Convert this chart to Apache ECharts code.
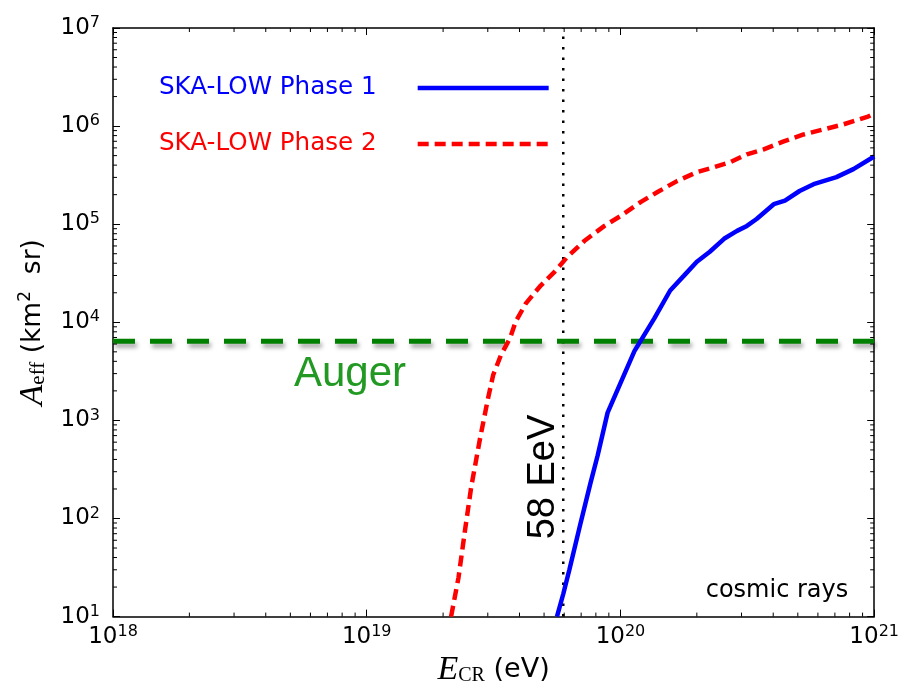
<!DOCTYPE html>
<html>
<head>
<meta charset="utf-8">
<script src="https://cdn.jsdelivr.net/npm/echarts@6.0.0/dist/echarts.min.js"></script>
<style>
  html, body { margin: 0; padding: 0; background: #fff; }
  #chart { width: 902px; height: 692px; }
</style>
</head>
<body>
<div id="chart"></div>
<script>
// values (log-log axes)
var phase1E = [5.62e19, 5.95e19, 6.29e19, 6.95e19, 7.60e19, 8.13e19, 8.90e19, 1.135e20, 1.36e20, 1.57e20,
  1.78e20, 2.0e20, 2.25e20, 2.56e20, 2.88e20, 3.15e20, 3.44e20, 4.02e20, 4.45e20, 5.08e20, 5.77e20, 7.1e20, 8.28e20, 1e21];
var phase1A = [10, 17, 30, 88, 224, 439, 1200, 5080, 10970, 21100,
  29900, 41500, 52400, 71000, 85500, 96000, 113000, 160000, 174000, 218000, 256000, 302000, 364000, 490000];

var phase2E = [2.15e19, 2.30e19, 2.44e19, 2.58e19, 2.80e19, 3.01e19, 3.15e19, 3.38e19, 3.67e19, 3.87e19,
  4.24e19, 4.85e19, 5.51e19, 6.19e19, 7.22e19, 8.65e19, 1.0e20, 1.20e20, 1.40e20, 1.67e20,
  2.0e20, 2.34e20, 2.70e20, 3.15e20, 3.67e20, 4.40e20, 5.27e20, 6.31e20, 7.55e20, 9.46e20, 1e21];
var phase2A = [10, 25, 76, 208, 667, 1700, 2900, 4630, 6890, 10240,
  15600, 23700, 32900, 46700, 67800, 96200, 121000, 168000, 213000, 275000,
  339000, 381000, 428000, 516000, 580000, 698000, 822000, 925000, 1.04e6, 1.25e6, 1.34e6];

var augerE = [1e18, 1e21];
var augerA = [6400, 6400];

var cutE = [5.95e19, 5.95e19];
var cutA = [10, 1e7];

var xRange = [1e18, 1e21];
var yRange = [10, 1e7];
var xDecades = [18, 19, 20];
var yDecades = [1, 2, 3, 4, 5, 6];
var minorMant = [2, 3, 4, 5, 6, 7, 8, 9];

function zip(a, b) { return a.map(function (v, i) { return [v, b[i]]; }); }

var xMinor = [];
xDecades.forEach(function (e) { minorMant.forEach(function (m) { xMinor.push([m * Math.pow(10, e), 10]); }); });
var yMinor = [];
yDecades.forEach(function (e) { minorMant.forEach(function (m) { yMinor.push([1e18, m * Math.pow(10, e)]); }); });

function powLabel(v) {
  return '{b|10}{s|' + Math.round(Math.log10(v)) + '}';
}
var powRich = {
  b: { fontFamily: 'DejaVu Sans', fontSize: 23, color: '#000', lineHeight: 26 },
  s: { fontFamily: 'DejaVu Sans', fontSize: 16, color: '#000', lineHeight: 14, verticalAlign: 'top' }
};

var chart = echarts.init(document.getElementById('chart'));

function minorTick(which) {
  return function (params, api) {
    var cs = params.coordSys;
    var st = { stroke: '#000', lineWidth: 1 };
    if (which === 'x') {
      var x = api.coord([api.value(0), api.value(1)])[0];
      var b = cs.y + cs.height;
      return { type: 'group', children: [
        { type: 'line', shape: { x1: x, y1: b, x2: x, y2: b - 4 }, style: st },
        { type: 'line', shape: { x1: x, y1: cs.y, x2: x, y2: cs.y + 4 }, style: st }
      ] };
    }
    var y = api.coord([api.value(0), api.value(1)])[1];
    var r = cs.x + cs.width;
    return { type: 'group', children: [
      { type: 'line', shape: { x1: cs.x, y1: y, x2: cs.x + 4, y2: y }, style: st },
      { type: 'line', shape: { x1: r, y1: y, x2: r - 4, y2: y }, style: st }
    ] };
  };
}

var axisBase = {
  axisLine: { show: true, lineStyle: { color: '#000', width: 1.5 } },
  axisTick: { show: true, inside: true, length: 7, lineStyle: { color: '#000', width: 1 } },
  splitLine: { show: false }
};

chart.setOption({
  animation: false,
  backgroundColor: '#fff',
  grid: { left: 113, top: 28, right: 24, bottom: 72 },
  legend: {
    orient: 'vertical',
    left: 159,
    top: 74,
    padding: 0,
    align: 'right',
    itemWidth: 131,
    itemHeight: 28,
    itemGap: 28,
    textStyle: { fontFamily: 'DejaVu Sans', fontSize: 24.6, lineHeight: 28, padding: [0, 36, 0, 0] },
    data: [
      { name: 'SKA-LOW Phase 1', textStyle: { color: '#0000ff' }, itemStyle: { opacity: 0 },
        lineStyle: { color: '#0000ff', width: 4.5, type: 'solid' } },
      { name: 'SKA-LOW Phase 2', textStyle: { color: '#ff0000' }, itemStyle: { opacity: 0 },
        lineStyle: { color: '#ff0000', width: 4.5, type: [11, 6] } }
    ]
  },
  xAxis: [
    Object.assign({}, axisBase, {
      type: 'log', logBase: 10, min: xRange[0], max: xRange[1],
      axisLabel: { margin: 7, formatter: powLabel, rich: powRich },
      name: '{i|E}{sub|CR}{t| (eV)}',
      nameLocation: 'middle',
      nameGap: 36,
      nameTextStyle: {
        color: '#000',
        rich: {
          i: { fontFamily: 'Liberation Serif', fontStyle: 'italic', fontSize: 34, lineHeight: 32, color: '#000' },
          sub: { fontFamily: 'Liberation Serif', fontSize: 20, lineHeight: 16, verticalAlign: 'bottom', color: '#000' },
          t: { fontFamily: 'DejaVu Sans', fontSize: 27, lineHeight: 32, color: '#000' }
        }
      }
    }),
    Object.assign({}, axisBase, {
      type: 'log', logBase: 10, min: xRange[0], max: xRange[1], position: 'top',
      axisLabel: { show: false }
    })
  ],
  yAxis: [
    Object.assign({}, axisBase, {
      type: 'log', logBase: 10, min: yRange[0], max: yRange[1],
      axisLabel: { margin: 13, formatter: powLabel, rich: powRich },
      name: '{i|A}{sub|eff}{t| (km}{sup|2}{t|  sr)}',
      nameLocation: 'middle',
      nameRotate: 90,
      nameGap: 64,
      nameTextStyle: {
        color: '#000',
        rich: {
          i: { fontFamily: 'Liberation Serif', fontStyle: 'italic', fontSize: 34, lineHeight: 32, color: '#000' },
          sub: { fontFamily: 'Liberation Serif', fontSize: 21, lineHeight: 16, verticalAlign: 'bottom', color: '#000' },
          sup: { fontFamily: 'DejaVu Sans', fontSize: 17, lineHeight: 14, verticalAlign: 'top', color: '#000' },
          t: { fontFamily: 'DejaVu Sans', fontSize: 26.5, lineHeight: 32, color: '#000' }
        }
      }
    }),
    Object.assign({}, axisBase, {
      type: 'log', logBase: 10, min: yRange[0], max: yRange[1], position: 'right',
      axisLabel: { show: false }
    })
  ],
  graphic: [
    { type: 'text', x: 350, y: 374, style: { text: 'Auger', fill: '#229922', font: '42px "Liberation Sans"', textAlign: 'center', textVerticalAlign: 'middle' } },
    { type: 'text', x: 544, y: 477, rotation: Math.PI / 2, style: { text: '58 EeV', fill: '#000', font: '38px "Liberation Sans"', textAlign: 'center', textVerticalAlign: 'middle' } },
    { type: 'text', x: 777, y: 591, style: { text: 'cosmic rays', fill: '#000', font: '24px "DejaVu Sans"', textAlign: 'center', textVerticalAlign: 'middle' } }
  ],
  series: [
    {
      name: 'cut', type: 'line', data: zip(cutE, cutA), symbol: 'none', silent: true, z: 2,
      lineStyle: { color: '#000', width: 2.5, type: [2.5, 8] }
    },
    {
      name: 'Auger', type: 'line', data: zip(augerE, augerA), symbol: 'none', silent: true, z: 3,
      lineStyle: { color: '#008000', width: 5, type: [22, 15], shadowColor: 'rgba(0,0,0,0.35)', shadowBlur: 4, shadowOffsetX: 2, shadowOffsetY: 4 }
    },
    {
      name: 'SKA-LOW Phase 2', type: 'line', data: zip(phase2E, phase2A), symbol: 'none', z: 4,
      itemStyle: { color: '#ff0000' },
      lineStyle: { color: '#ff0000', width: 4.5, type: [11, 6] }
    },
    {
      name: 'SKA-LOW Phase 1', type: 'line', data: zip(phase1E, phase1A), symbol: 'none', z: 5,
      itemStyle: { color: '#0000ff' },
      lineStyle: { color: '#0000ff', width: 4.5 }
    },
    { type: 'custom', renderItem: minorTick('x'), data: xMinor, silent: true, z: 6, clip: false },
    { type: 'custom', renderItem: minorTick('y'), data: yMinor, silent: true, z: 6, clip: false }
  ]
});
</script>
</body>
</html>
